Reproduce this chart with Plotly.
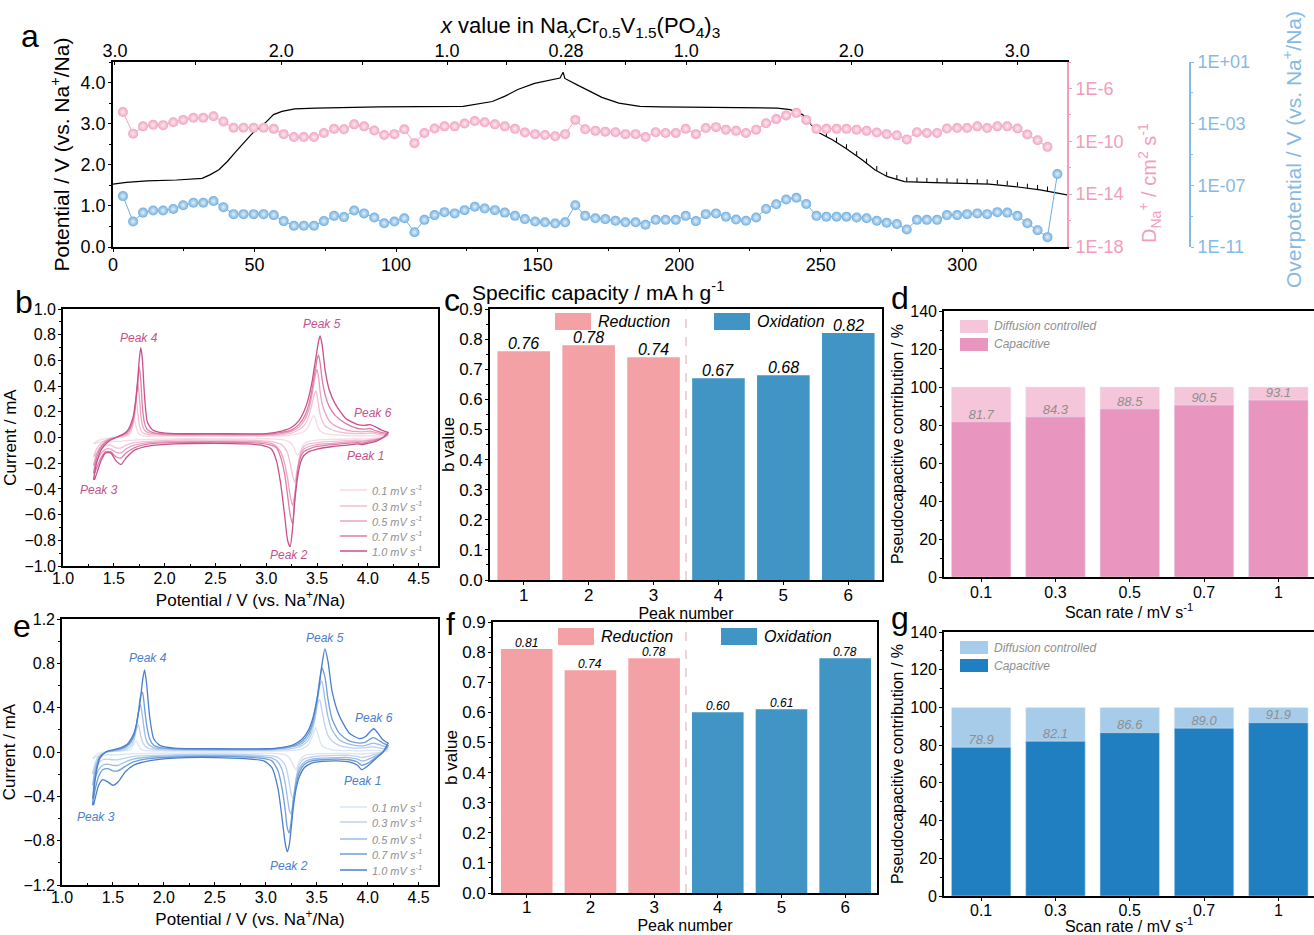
import plotly.graph_objects as go

# ------------------------------------------------------------------ data
# panel a : GITT charge/discharge curve
capacity = [0, 4.7, 12.1, 22.5, 31.5, 34.4, 37.4, 40.4, 43.4, 49.3, 53.8, 56.7, 59.7, 64.2, 71.6,
            93.9, 123.7, 129.6, 134.0, 138.5, 143.0, 148.9, 153.4, 157.9, 159.0, 159.6, 163.8,
            168.3, 172.7, 178.7, 186.1, 193.3, 234.6, 239.2, 243.6, 246.6, 249.6, 254.1, 258.7,
            264.6, 269.1, 273.6, 279.6, 287.1, 309.5, 318.5, 327.5, 337.0]
potential = [1.53, 1.57, 1.61, 1.63, 1.67, 1.76, 1.88, 2.08, 2.32, 2.77, 3.02, 3.22, 3.30, 3.36, 3.38,
             3.41, 3.42, 3.48, 3.54, 3.67, 3.83, 3.98, 4.05, 4.11, 4.25, 4.10, 3.95,
             3.79, 3.64, 3.50, 3.42, 3.41, 3.38, 3.34, 3.22, 2.98, 2.77, 2.61, 2.41,
             2.12, 1.88, 1.71, 1.59, 1.57, 1.53, 1.47, 1.39, 1.27]
spike_capacity = [252.0, 255.6, 259.1, 262.7, 266.2, 269.8, 273.3, 276.9, 280.4, 284.0, 287.5, 291.1,
                  294.6, 298.2, 301.7, 305.3, 308.8, 312.4, 315.9, 319.5, 323.0, 326.6, 330.1]
spike_potential = [2.68, 2.55, 2.39, 2.22, 2.04, 1.86, 1.72, 1.64, 1.585, 1.58, 1.57, 1.565,
                   1.56, 1.555, 1.55, 1.54, 1.535, 1.52, 1.50, 1.465, 1.43, 1.40, 1.36]

gitt_capacity = [3.5, 7.1, 10.6, 14.2, 17.7, 21.3, 24.8, 28.4, 31.9, 35.5,
                 39.0, 42.6, 46.1, 49.7, 53.2, 56.8, 60.3, 63.9, 67.4, 71.0,
                 74.5, 78.1, 81.6, 85.2, 88.7, 92.3, 95.8, 99.4, 102.9, 106.5,
                 110.0, 113.6, 117.1, 120.7, 124.2, 127.8, 131.3, 134.9, 138.4, 142.0,
                 145.5, 149.1, 152.6, 156.2, 159.7, 163.3, 166.8, 170.4, 173.9, 177.5,
                 181.0, 184.6, 188.1, 191.7, 195.2, 198.8, 202.3, 205.9, 209.4, 213.0,
                 216.5, 220.1, 223.6, 227.2, 230.7, 234.3, 237.8, 241.4, 244.9, 248.5,
                 252.0, 255.6, 259.1, 262.7, 266.2, 269.8, 273.3, 276.9, 280.4, 284.0,
                 287.5, 291.1, 294.6, 298.2, 301.7, 305.3, 308.8, 312.4, 315.9, 319.5,
                 323.0, 326.6, 330.1]
# log10 of D_Na+ (cm2 s-1)
d_na_log10 = [-7.79, -9.43, -8.87, -8.75, -8.78, -8.56, -8.38, -8.22, -8.22, -8.10,
              -8.50, -8.97, -8.97, -8.97, -8.97, -9.06, -9.46, -9.68, -9.68, -9.68,
              -9.37, -9.06, -9.09, -8.72, -8.87, -9.18, -9.52, -9.46, -9.09, -10.14,
              -9.37, -9.03, -8.87, -8.87, -8.66, -8.47, -8.56, -8.72, -8.87, -9.06,
              -9.34, -9.46, -9.52, -9.62, -9.46, -8.38, -9.09, -9.21, -9.27, -9.31,
              -9.46, -9.46, -9.68, -9.31, -9.37, -9.37, -9.06, -9.46, -9.00, -8.93,
              -9.12, -9.21, -9.37, -9.12, -8.63, -8.32, -8.04, -7.85, -8.38, -9.06,
              -9.06, -9.06, -9.06, -9.12, -9.21, -9.34, -9.46, -9.55, -9.86, -9.31,
              -9.37, -9.37, -9.03, -9.00, -9.00, -8.87, -9.00, -8.87, -8.87, -9.03,
              -9.49, -9.92, -10.42]
# log10 of overpotential (V)
eta_capacity = gitt_capacity + [333.6]
eta_log10 = [-7.70, -9.35, -8.77, -8.63, -8.63, -8.53, -8.29, -8.13, -8.13, -8.02,
             -8.42, -8.87, -8.87, -8.87, -8.87, -8.93, -9.32, -9.62, -9.62, -9.62,
             -9.32, -8.98, -9.06, -8.63, -8.82, -9.09, -9.46, -9.35, -9.14, -10.04,
             -9.24, -8.93, -8.74, -8.82, -8.61, -8.39, -8.50, -8.61, -8.77, -8.98,
             -9.19, -9.35, -9.40, -9.48, -9.40, -8.29, -8.98, -9.14, -9.19, -9.30,
             -9.40, -9.40, -9.56, -9.24, -9.24, -9.24, -8.98, -9.32, -8.87, -8.82,
             -9.03, -9.22, -9.30, -9.09, -8.53, -8.23, -7.92, -7.81, -8.21, -8.98,
             -9.03, -9.03, -9.03, -9.09, -9.14, -9.30, -9.43, -9.51, -9.86, -9.24,
             -9.24, -9.24, -8.93, -8.93, -8.87, -8.82, -8.87, -8.74, -8.77, -8.98,
             -9.46, -9.91, -10.36, -6.27]
top_tick_pos = [0.7, 59.4, 118.0, 160.0, 202.5, 260.8, 319.4]
top_tick_text = ["3.0", "2.0", "1.0", "0.28", "1.0", "2.0", "3.0"]
top_minor_pos = [29.0, 88.0, 139.0, 181.0, 234.0, 293.0]

# panels b / e : CV curves
scan_rates = ["0.1", "0.3", "0.5", "0.7", "1.0"]
cv_b_anodic_v = [1.30, 1.33, 1.38, 1.45, 1.52, 1.58, 1.63, 1.66, 1.69, 1.70, 1.72, 1.735, 1.75, 1.765,
                 1.78, 1.80, 1.83, 1.88, 1.95, 2.10, 2.50, 3.00, 3.15, 3.25, 3.32, 3.38, 3.42, 3.45,
                 3.47, 3.49, 3.50, 3.515, 3.53, 3.55, 3.58, 3.62, 3.68, 3.78, 3.90, 3.97, 4.02,
                 4.07, 4.13, 4.20]
cv_b_anodic_i = {
    "0.1": [-0.05, -0.03, -0.015, -0.005, 0.00, 0.005, 0.01, 0.03, 0.13, 0.14, 0.08, 0.04, 0.025, 0.02,
            0.015, 0.012, 0.01, 0.01, 0.01, 0.01, 0.01, 0.01, 0.012, 0.02, 0.03, 0.05, 0.09, 0.15,
            0.17, 0.13, 0.10, 0.07, 0.05, 0.04, 0.03, 0.025, 0.02, 0.015, 0.012, 0.012, 0.015,
            0.012, 0.01, 0.01],
    "0.3": [-0.15, -0.09, -0.04, -0.01, 0.00, 0.01, 0.02, 0.04, 0.10, 0.15, 0.29, 0.20, 0.10, 0.06,
            0.04, 0.03, 0.025, 0.02, 0.02, 0.015, 0.015, 0.015, 0.02, 0.035, 0.06, 0.10, 0.17, 0.26,
            0.33, 0.36, 0.33, 0.25, 0.18, 0.13, 0.09, 0.07, 0.05, 0.035, 0.03, 0.03, 0.035,
            0.03, 0.02, 0.02],
    "0.5": [-0.22, -0.13, -0.06, -0.015, 0.00, 0.015, 0.03, 0.06, 0.12, 0.16, 0.32, 0.43, 0.33, 0.18,
            0.10, 0.06, 0.04, 0.03, 0.025, 0.02, 0.02, 0.02, 0.03, 0.05, 0.08, 0.14, 0.22, 0.33,
            0.43, 0.51, 0.53, 0.47, 0.36, 0.26, 0.19, 0.13, 0.09, 0.06, 0.045, 0.045, 0.05,
            0.04, 0.03, 0.025],
    "0.7": [-0.28, -0.16, -0.07, -0.02, 0.00, 0.02, 0.04, 0.07, 0.14, 0.18, 0.30, 0.42, 0.55, 0.45,
            0.25, 0.12, 0.06, 0.04, 0.03, 0.025, 0.025, 0.025, 0.04, 0.06, 0.10, 0.17, 0.26, 0.37,
            0.47, 0.56, 0.61, 0.64, 0.58, 0.45, 0.33, 0.24, 0.17, 0.11, 0.07, 0.065, 0.07,
            0.055, 0.04, 0.03],
    "1.0": [-0.33, -0.20, -0.09, -0.03, 0.00, 0.02, 0.05, 0.09, 0.16, 0.20, 0.32, 0.45, 0.60, 0.70,
            0.62, 0.35, 0.12, 0.06, 0.04, 0.03, 0.03, 0.03, 0.05, 0.08, 0.13, 0.22, 0.32, 0.43,
            0.53, 0.63, 0.68, 0.75, 0.79, 0.72, 0.52, 0.37, 0.26, 0.15, 0.10, 0.095, 0.10,
            0.085, 0.06, 0.04],
}
cv_b_cathodic_v = [4.20, 4.15, 4.08, 4.00, 3.95, 3.90, 3.80, 3.65, 3.50, 3.42, 3.37, 3.34, 3.31, 3.28,
                   3.26, 3.235, 3.21, 3.18, 3.14, 3.10, 3.05, 2.95, 2.80, 2.50, 2.10, 1.85, 1.70, 1.62,
                   1.57, 1.52, 1.47, 1.42, 1.38, 1.34, 1.31]
cv_b_cathodic_i = {
    "0.1": [0.01, 0.00, -0.005, -0.01, -0.012, -0.01, -0.012, -0.015, -0.02, -0.03, -0.05, -0.10, -0.14,
            -0.10, -0.06, -0.04, -0.03, -0.02, -0.015, -0.012, -0.01, -0.01, -0.01, -0.01, -0.01,
            -0.015, -0.02, -0.025, -0.03, -0.03, -0.03, -0.03, -0.035, -0.04, -0.05],
    "0.3": [0.02, 0.00, -0.01, -0.02, -0.025, -0.02, -0.025, -0.03, -0.04, -0.05, -0.07, -0.11, -0.22,
            -0.35, -0.30, -0.20, -0.12, -0.08, -0.05, -0.04, -0.03, -0.025, -0.02, -0.02, -0.02,
            -0.03, -0.04, -0.06, -0.08, -0.08, -0.06, -0.06, -0.08, -0.11, -0.15],
    "0.5": [0.025, 0.00, -0.015, -0.025, -0.035, -0.03, -0.035, -0.045, -0.055, -0.07, -0.09, -0.13,
            -0.25, -0.45, -0.53, -0.45, -0.32, -0.20, -0.11, -0.07, -0.045, -0.035, -0.03, -0.03,
            -0.03, -0.04, -0.06, -0.09, -0.12, -0.115, -0.09, -0.09, -0.12, -0.17, -0.22],
    "0.7": [0.03, 0.00, -0.02, -0.035, -0.045, -0.04, -0.045, -0.055, -0.07, -0.09, -0.11, -0.15,
            -0.25, -0.48, -0.67, -0.60, -0.45, -0.28, -0.15, -0.08, -0.06, -0.045, -0.04, -0.035,
            -0.04, -0.05, -0.08, -0.12, -0.16, -0.15, -0.11, -0.11, -0.15, -0.22, -0.28],
    "1.0": [0.04, 0.00, -0.03, -0.045, -0.055, -0.05, -0.06, -0.07, -0.09, -0.11, -0.14, -0.19, -0.30,
            -0.50, -0.70, -0.85, -0.80, -0.60, -0.35, -0.18, -0.09, -0.06, -0.05, -0.045, -0.05,
            -0.065, -0.10, -0.16, -0.21, -0.18, -0.12, -0.12, -0.17, -0.26, -0.33],
}
cv_e_anodic_v = [1.30, 1.33, 1.37, 1.43, 1.50, 1.58, 1.64, 1.68, 1.71, 1.73, 1.75, 1.77, 1.79, 1.81,
                 1.83, 1.86, 1.90, 1.96, 2.10, 2.50, 3.00, 3.15, 3.28, 3.36, 3.42, 3.46, 3.49, 3.51,
                 3.53, 3.55, 3.58, 3.61, 3.65, 3.72, 3.82, 3.92, 3.98, 4.03, 4.06, 4.10, 4.15, 4.20]
cv_e_anodic_i = {
    "0.1": [-0.06, -0.03, -0.01, 0.00, 0.004, 0.008, 0.015, 0.03, 0.08, 0.10, 0.06, 0.03, 0.02, 0.015,
            0.012, 0.01, 0.01, 0.01, 0.008, 0.008, 0.008, 0.01, 0.015, 0.03, 0.07, 0.15, 0.22, 0.17,
            0.10, 0.06, 0.04, 0.03, 0.02, 0.015, 0.012, 0.01, 0.012, 0.015, 0.015, 0.013, 0.01, 0.01],
    "0.3": [-0.20, -0.09, -0.03, 0.00, 0.008, 0.015, 0.03, 0.06, 0.12, 0.20, 0.25, 0.16, 0.09, 0.06,
            0.04, 0.03, 0.025, 0.02, 0.015, 0.015, 0.015, 0.02, 0.035, 0.06, 0.11, 0.20, 0.33, 0.44,
            0.47, 0.38, 0.24, 0.15, 0.10, 0.06, 0.04, 0.035, 0.04, 0.045, 0.045, 0.04, 0.03, 0.03],
    "0.5": [-0.30, -0.13, -0.04, 0.00, 0.01, 0.025, 0.05, 0.09, 0.15, 0.24, 0.36, 0.43, 0.32, 0.18,
            0.10, 0.06, 0.04, 0.03, 0.025, 0.02, 0.02, 0.03, 0.05, 0.08, 0.14, 0.24, 0.36, 0.48,
            0.60, 0.64, 0.48, 0.32, 0.20, 0.11, 0.07, 0.055, 0.06, 0.075, 0.08, 0.07, 0.055, 0.045],
    "0.7": [-0.42, -0.18, -0.05, 0.00, 0.015, 0.03, 0.06, 0.10, 0.16, 0.24, 0.36, 0.50, 0.54, 0.40,
            0.25, 0.12, 0.06, 0.04, 0.03, 0.025, 0.025, 0.035, 0.06, 0.10, 0.17, 0.27, 0.40, 0.52,
            0.66, 0.76, 0.68, 0.48, 0.30, 0.17, 0.10, 0.08, 0.09, 0.12, 0.13, 0.11, 0.08, 0.06],
    "1.0": [-0.48, -0.22, -0.06, 0.00, 0.02, 0.04, 0.07, 0.12, 0.18, 0.25, 0.35, 0.48, 0.64, 0.74,
            0.62, 0.32, 0.12, 0.06, 0.035, 0.03, 0.03, 0.04, 0.07, 0.12, 0.20, 0.30, 0.42, 0.52,
            0.64, 0.78, 0.93, 0.82, 0.55, 0.33, 0.17, 0.12, 0.14, 0.19, 0.21, 0.17, 0.11, 0.08],
}
cv_e_cathodic_v = [4.20, 4.15, 4.08, 4.02, 3.98, 3.94, 3.90, 3.82, 3.70, 3.55, 3.45, 3.38, 3.33, 3.30,
                   3.27, 3.25, 3.23, 3.21, 3.19, 3.16, 3.12, 3.06, 2.98, 2.80, 2.50, 2.10, 1.85, 1.70,
                   1.62, 1.55, 1.50, 1.45, 1.40, 1.36, 1.33, 1.31]
cv_e_cathodic_i = {
    "0.1": [0.01, 0.00, -0.008, -0.012, -0.015, -0.018, -0.015, -0.012, -0.012, -0.015, -0.02, -0.03,
            -0.08, -0.16, -0.12, -0.08, -0.05, -0.035, -0.025, -0.02, -0.015, -0.012, -0.01, -0.01,
            -0.008, -0.01, -0.012, -0.015, -0.02, -0.025, -0.025, -0.025, -0.03, -0.035, -0.045, -0.06],
    "0.3": [0.03, 0.00, -0.02, -0.035, -0.045, -0.05, -0.04, -0.03, -0.03, -0.035, -0.045, -0.06,
            -0.11, -0.22, -0.42, -0.38, -0.28, -0.18, -0.12, -0.08, -0.05, -0.035, -0.03, -0.025,
            -0.02, -0.025, -0.03, -0.04, -0.055, -0.07, -0.07, -0.065, -0.07, -0.10, -0.15, -0.20],
    "0.5": [0.045, 0.00, -0.035, -0.06, -0.075, -0.08, -0.065, -0.05, -0.05, -0.055, -0.065, -0.09,
            -0.15, -0.24, -0.42, -0.56, -0.52, -0.40, -0.28, -0.16, -0.09, -0.055, -0.045, -0.035,
            -0.03, -0.035, -0.045, -0.065, -0.09, -0.12, -0.12, -0.11, -0.12, -0.16, -0.23, -0.30],
    "0.7": [0.06, 0.00, -0.05, -0.09, -0.11, -0.12, -0.09, -0.07, -0.065, -0.07, -0.08, -0.11,
            -0.18, -0.28, -0.45, -0.62, -0.73, -0.68, -0.52, -0.33, -0.17, -0.08, -0.06, -0.045,
            -0.04, -0.045, -0.06, -0.09, -0.13, -0.17, -0.17, -0.15, -0.16, -0.22, -0.32, -0.42],
    "1.0": [0.08, 0.00, -0.06, -0.11, -0.14, -0.16, -0.12, -0.09, -0.08, -0.085, -0.10, -0.14,
            -0.22, -0.32, -0.50, -0.68, -0.84, -0.90, -0.82, -0.60, -0.33, -0.14, -0.08, -0.06,
            -0.05, -0.055, -0.08, -0.12, -0.18, -0.27, -0.30, -0.27, -0.25, -0.30, -0.40, -0.48],
}

# panels c / f : b values
peak_reduction = [1, 2, 3]
peak_oxidation = [4, 5, 6]
b_c_reduction = [0.76, 0.78, 0.74]
b_c_oxidation = [0.67, 0.68, 0.82]
b_f_reduction = [0.81, 0.74, 0.78]
b_f_oxidation = [0.60, 0.61, 0.78]

# panels d / g : pseudocapacitive contribution
rate_labels = ["0.1", "0.3", "0.5", "0.7", "1"]
total_pct = [100, 100, 100, 100, 100]
capacitive_d = [81.7, 84.3, 88.5, 90.5, 93.1]
capacitive_g = [78.9, 82.1, 86.6, 89.0, 91.9]

# ------------------------------------------------------------------ styling
W, H = 1314, 935
FONT = "Arial, Liberation Sans, sans-serif"
PINK_DOT = "#F2A3C0"
BLUE_DOT = "#6FAEE0"
PINK_AX = "#F29DBB"
BLUE_AX = "#86BAE3"
CV_PINK = {"0.1": "#F7D9E4", "0.3": "#F1C0D3", "0.5": "#E9A4C1", "0.7": "#DB7FA8", "1.0": "#C9508A"}
CV_BLUE = {"0.1": "#D8E6F5", "0.3": "#BDD3EE", "0.5": "#9BBCE5", "0.7": "#6E9DD8", "1.0": "#4A7ECB"}
RED_BAR = "#F4A1A5"
BLUE_BAR = "#4095C5"
DIFF_PINK, CAP_PINK = "#F5C5D9", "#E895BF"
DIFF_BLUE, CAP_BLUE = "#A7CCE9", "#1F7FC1"
GREY = "#8F8F8F"


def fx(p):
    return p / W


def fy(p):
    return 1 - p / H


fig = go.Figure()
ann, shp = [], []

# ---- panel a
fig.add_trace(go.Scatter(x=gitt_capacity, y=[10 ** v for v in d_na_log10], mode="lines+markers",
                         line=dict(color=PINK_DOT, width=1),
                         marker=dict(size=10, color=PINK_DOT, line=dict(width=0),
                                     gradient=dict(type="radial", color="#FDEBF2")),
                         xaxis="x", yaxis="y2"))
fig.add_trace(go.Scatter(x=eta_capacity, y=[10 ** v for v in eta_log10], mode="lines+markers",
                         line=dict(color=BLUE_DOT, width=1),
                         marker=dict(size=10, color=BLUE_DOT, line=dict(width=0),
                                     gradient=dict(type="radial", color="#E3F0FB")),
                         xaxis="x", yaxis="y3"))
fig.add_trace(go.Scatter(x=capacity, y=potential, mode="lines", line=dict(color="black", width=1.2),
                         xaxis="x", yaxis="y"))
sx, sy = [], []
for c, v in zip(spike_capacity, spike_potential):
    sx += [c, c, None]
    sy += [v, v + 0.11, None]
fig.add_trace(go.Scatter(x=sx, y=sy, mode="lines", line=dict(color="black", width=1),
                         xaxis="x", yaxis="y"))
fig.add_trace(go.Scatter(x=[None], y=[None], xaxis="x2", yaxis="y", mode="markers"))

# ---- panels b / e
for r in scan_rates:
    fig.add_trace(go.Scatter(x=cv_b_anodic_v + cv_b_cathodic_v,
                             y=cv_b_anodic_i[r] + cv_b_cathodic_i[r], mode="lines",
                             line=dict(color=CV_PINK[r], width=1.3, shape="spline", smoothing=0.6),
                             xaxis="x3", yaxis="y4"))
    fig.add_trace(go.Scatter(x=cv_e_anodic_v + cv_e_cathodic_v,
                             y=cv_e_anodic_i[r] + cv_e_cathodic_i[r], mode="lines",
                             line=dict(color=CV_BLUE[r], width=1.3, shape="spline", smoothing=0.6),
                             xaxis="x6", yaxis="y7"))

# ---- panels c / f
for xa, ya, size, red, ox in [("x4", "y5", 16, b_c_reduction, b_c_oxidation),
                              ("x7", "y8", 12, b_f_reduction, b_f_oxidation)]:
    for peaks, vals, col in [(peak_reduction, red, RED_BAR), (peak_oxidation, ox, BLUE_BAR)]:
        fig.add_trace(go.Bar(x=peaks, y=vals, width=0.81,
                             marker=dict(color=col, opacity=1, line=dict(width=0)),
                             xaxis=xa, yaxis=ya))
        for p, v in zip(peaks, vals):
            ann.append(dict(x=p, y=v, xref=xa, yref=ya, text=f"{v:.2f}", showarrow=False,
                            xanchor="center", yanchor="bottom", yshift=-3,
                            font=dict(size=size, color="black", style="italic", family=FONT)))

# ---- panels d / g
for xa, ya, cap, dcol, ccol in [("x5", "y6", capacitive_d, DIFF_PINK, CAP_PINK),
                                ("x8", "y9", capacitive_g, DIFF_BLUE, CAP_BLUE)]:
    fig.add_trace(go.Bar(x=rate_labels, y=total_pct, width=0.8, marker=dict(color=dcol, opacity=1),
                         xaxis=xa, yaxis=ya))
    fig.add_trace(go.Bar(x=rate_labels, y=cap, width=0.8, marker=dict(color=ccol, opacity=1),
                         xaxis=xa, yaxis=ya))
    fig.add_trace(go.Scatter(x=rate_labels, y=cap, mode="text", text=[f"{v:.1f}" for v in cap],
                             textposition="top center",
                             textfont=dict(size=13, color=GREY, style="italic", family=FONT),
                             xaxis=xa, yaxis=ya))


# ------------------------------------------------------------------ axes
def axis(dom, rng, tfs=15, **kw):
    d = dict(domain=dom, range=rng, showline=True, linecolor="black", linewidth=1.6,
             ticks="outside", ticklen=3, tickwidth=1.3, tickcolor="black", showgrid=False,
             zeroline=False, automargin=False,
             tickfont=dict(size=tfs, color="black", family=FONT))
    d.update(kw)
    return d


def title(text, size=15, standoff=None):
    t = dict(text=text, font=dict(size=size, color="black", family=FONT))
    if standoff is not None:
        t["standoff"] = standoff
    return t


minor_style = lambda dt, d="outside": dict(ticks=d, ticklen=2, tickcolor="black", dtick=dt)

layout = dict(
    width=W, height=H, margin=dict(l=0, r=0, t=0, b=0, pad=0, autoexpand=False), autosize=False,
    paper_bgcolor="white", plot_bgcolor="white", showlegend=False, barmode="overlay",
    font=dict(family=FONT, color="black"),
    # panel a
    xaxis=axis([fx(113), fx(1067)], [0, 337], 18, anchor="y", dtick=50, minor=minor_style(25),
               ticklabelstandoff=-2),
    xaxis2=axis([fx(113), fx(1067)], [0, 337], 18, anchor="y", overlaying="x", side="top",
                tickmode="array", tickvals=top_tick_pos, ticktext=top_tick_text, ticks="inside",
                ticklabelstandoff=-4,
                minor=dict(ticks="inside", ticklen=3, tickcolor="black", tickvals=top_minor_pos)),
    yaxis=axis([fy(247), fy(62)], [0, 4.5], 18, anchor="x", dtick=1, tickformat=".1f",
               minor=minor_style(0.5), ticklabelstandoff=-1,
               title=title("Potential / V (vs. Na<sup>+</sup>/Na)", 21, 5)),
    yaxis2=axis([fy(247), fy(62)], [-18, -4], 18, anchor="x", overlaying="y", side="right",
                type="log", linecolor=PINK_AX, tickcolor=PINK_AX,
                tickfont=dict(size=18, color=PINK_AX, family=FONT),
                tickmode="array", tickvals=[1e-18, 1e-14, 1e-10, 1e-6],
                ticktext=["1E-18", "1E-14", "1E-10", "1E-6"],
                minor=dict(ticks="outside", ticklen=2, tickcolor=PINK_AX,
                           tickvals=[1e-16, 1e-12, 1e-8, 1e-4])),
    yaxis3=axis([fy(247), fy(62)], [-11, 1], 18, anchor="free", position=fx(1190),
                overlaying="y", side="right", type="log", linecolor=BLUE_AX, tickcolor=BLUE_AX,
                tickfont=dict(size=18, color=BLUE_AX, family=FONT),
                tickmode="array", tickvals=[1e-11, 1e-7, 1e-3, 1e1],
                ticktext=["1E-11", "1E-07", "1E-03", "1E+01"],
                minor=dict(ticks="outside", ticklen=2, tickcolor=BLUE_AX,
                           tickvals=[1e-9, 1e-5, 1e-1])),
    # panel b
    xaxis3=axis([fx(63), fx(438)], [1, 4.69], 16, anchor="y4", dtick=0.5, tickformat=".1f",
                ticks="inside", mirror=True, minor=minor_style(0.25, "inside"),
                ticklabelstandoff=-3,
                title=title("Potential / V (vs. Na<sup>+</sup>/Na)", 17, 8)),
    yaxis4=axis([fy(566), fy(309)], [-1, 1], 16, anchor="x3", dtick=0.2, tickformat=".1f",
                mirror=True, minor=minor_style(0.1), ticklabelstandoff=-1,
                title=title("Current / mA", 17, 3)),
    # panel c
    xaxis4=axis([fx(490), fx(882)], [0.48, 6.52], 17, anchor="y5", tickmode="array",
                tickvals=[1, 2, 3, 4, 5, 6], mirror=True, ticklabelstandoff=-4,
                title=title("Peak number", 16, 0)),
    yaxis5=axis([fy(580), fy(309)], [0, 0.9], 17, anchor="x4", dtick=0.1, tickformat=".1f",
                mirror=True, minor=minor_style(0.05), ticklabelstandoff=-1,
                title=title("b value", 17, 0)),
    # panel d
    xaxis5=axis([fx(944), 1.0], [-0.5, 4.48], 16, anchor="y6", type="category", mirror=True,
                ticklabelstandoff=-3, title=title("Scan rate / mV s<sup>-1</sup>", 16, 0)),
    yaxis6=axis([fy(577), fy(311)], [0, 140], 16, anchor="x5", dtick=20, ticklabelstandoff=-1,
                minor=minor_style(10), title=title("Pseudocapacitive contribution / %", 16, 3)),
    # panel e
    xaxis6=axis([fx(62), fx(438)], [1, 4.69], 16, anchor="y7", dtick=0.5, tickformat=".1f",
                ticks="inside", mirror=True, minor=minor_style(0.25, "inside"),
                ticklabelstandoff=-3,
                title=title("Potential / V (vs. Na<sup>+</sup>/Na)", 17, 8)),
    yaxis7=axis([fy(885), fy(619)], [-1.2, 1.2], 16, anchor="x6", dtick=0.4, tickformat=".1f",
                mirror=True, minor=minor_style(0.2), ticklabelstandoff=-1,
                title=title("Current / mA", 17, 3)),
    # panel f
    xaxis7=axis([fx(493), fx(877)], [0.47, 6.5], 17, anchor="y8", tickmode="array",
                tickvals=[1, 2, 3, 4, 5, 6], mirror=True, ticklabelstandoff=-5,
                title=title("Peak number", 16, 0)),
    yaxis8=axis([fy(893), fy(622)], [0, 0.9], 17, anchor="x7", dtick=0.1, tickformat=".1f",
                mirror=True, minor=minor_style(0.05), ticklabelstandoff=-1,
                title=title("b value", 17, 0)),
    # panel g
    xaxis8=axis([fx(944), 1.0], [-0.5, 4.48], 16, anchor="y9", type="category", mirror=True,
                ticklabelstandoff=-4, title=title("Scan rate / mV s<sup>-1</sup>", 16, 1)),
    yaxis9=axis([fy(896), fy(632)], [0, 140], 16, anchor="x8", dtick=20, ticklabelstandoff=-1,
                minor=minor_style(10), title=title("Pseudocapacitive contribution / %", 16, 3)),
)
fig.update_layout(**layout)


# ------------------------------------------------------------------ annotations & shapes
def text(x, y, s, size=15, color="black", italic=False, anchor="center", angle=0):
    ann.append(dict(x=fx(x), y=fy(y), xref="paper", yref="paper", text=s, showarrow=False,
                    xanchor=anchor, yanchor="middle", textangle=angle,
                    font=dict(size=size, color=color, family=FONT,
                              style="italic" if italic else "normal")))


def rect(x0, y0, x1, y1, color):
    shp.append(dict(type="rect", xref="paper", yref="paper", x0=fx(x0), x1=fx(x1), y0=fy(y1),
                    y1=fy(y0), fillcolor=color, line=dict(width=0)))


for lab, x, y in [("a", 30, 36), ("b", 24, 302), ("c", 452, 300), ("d", 900, 298),
                  ("e", 22, 626), ("f", 450, 624), ("g", 900, 618)]:
    text(x, y, lab, 32)

text(580, 27, "<i>x</i> value in Na<sub><i>x</i></sub>Cr<sub>0.5</sub>V<sub>1.5</sub>(PO<sub>4</sub>)<sub>3</sub>", 22)
text(470, 291, "Specific capacity / mA h g<sup>-1</sup>", 21, anchor="left")
text(1150, 183, "D<sub>Na</sub><sup>+</sup> / cm<sup>2</sup> s<sup>-1</sup>", 20, PINK_AX, angle=-90)
text(1292, 150, "Overpotential / V (vs. Na<sup>+</sup>/Na)", 21, BLUE_AX, angle=-90)

# CV peak labels
for s, x, y in [("Peak 4", 139, 338), ("Peak 5", 322, 324), ("Peak 6", 373, 413),
                ("Peak 1", 365, 456), ("Peak 3", 99, 490), ("Peak 2", 289, 555)]:
    text(x, y, s, 12, "#C4528A", True)
for s, x, y in [("Peak 4", 148, 658), ("Peak 5", 325, 638), ("Peak 6", 374, 718),
                ("Peak 1", 362, 781), ("Peak 3", 96, 817), ("Peak 2", 289, 866)]:
    text(x, y, s, 12, "#4A7ECB", True)

# CV legends
for rows, cols in [([490, 506, 521, 536, 551], CV_PINK), ([807, 822, 839, 854, 870], CV_BLUE)]:
    for r, yy in zip(scan_rates, rows):
        shp.append(dict(type="line", xref="paper", yref="paper", x0=fx(340), x1=fx(367),
                        y0=fy(yy), y1=fy(yy), line=dict(color=cols[r], width=1.5)))
        text(370, yy, f"{r} mV s<sup>-1</sup>", 11, GREY, True, "left")

# c / f legends
for y0, y1, xr, xo in [(313, 330, 555, 714), (628, 645, 558, 721)]:
    rect(xr, y0, xr + 36, y1, RED_BAR)
    rect(xo, y0, xo + 36, y1, BLUE_BAR)
    text(xr + 41, (y0 + y1) / 2, "Reduction", 16, "black", True, "left")
    text(xo + 41, (y0 + y1) / 2, "Oxidation", 16, "black", True, "left")

# dashed separators
for xa, ya in [("x4", "y5"), ("x7", "y8")]:
    shp.append(dict(type="line", xref=xa, yref=f"{ya} domain", x0=3.5, x1=3.5, y0=0, y1=1,
                    line=dict(color="#D9A9A9", width=1, dash="dash")))

# d / g legends
for top, dcol, ccol in [(320, DIFF_PINK, CAP_PINK), (641, DIFF_BLUE, CAP_BLUE)]:
    rect(960, top, 988, top + 13, dcol)
    rect(960, top + 18, 988, top + 31, ccol)
    text(992, top + 6.5, "Diffusion controlled", 12, GREY, True, "left")
    text(992, top + 24.5, "Capacitive", 12, GREY, True, "left")

fig.update_layout(annotations=ann, shapes=shp)
fig.write_html("out.html")
